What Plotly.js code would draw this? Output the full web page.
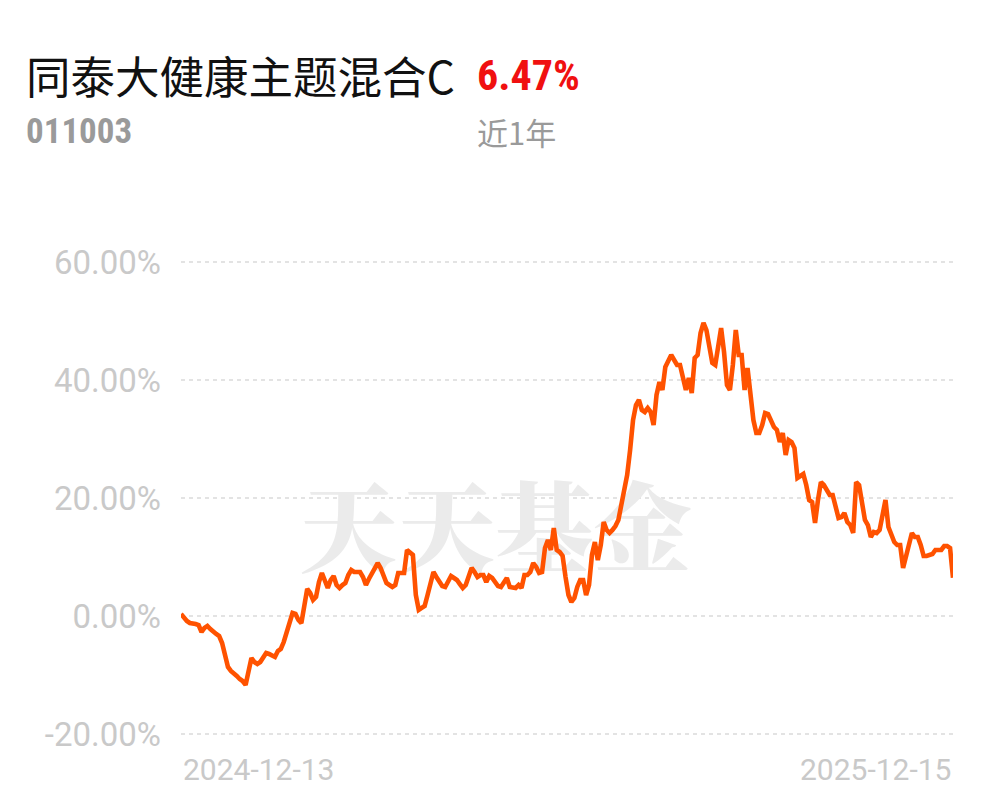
<!DOCTYPE html>
<html>
<head>
<meta charset="utf-8">
<script src="https://cdn.plot.ly/plotly-3.0.1.min.js"></script>
<style>
html,body{margin:0;padding:0;background:#fff;}
#chart{width:997px;height:802px;}
</style>
</head>
<body>
<div id="chart"></div>
<script>
const fundName = "同泰大健康主题混合C";
const fundCode = "011003";
const periodReturn = "6.47%";
const periodLabel = "近1年";
const startDate = "2024-12-13";
const endDate = "2025-12-15";
const yTicks = [-20, 0, 20, 40, 60];
const yTickText = ["-20.00%", "0.00%", "20.00%", "40.00%", "60.00%"];

const returns = [
0.34,-0.34,-0.85,-1.19,-1.19,-1.36,-1.53,-2.71,-2.03,-1.69,
-2.20,-2.71,-3.05,-3.39,-4.58,-6.61,-8.64,-9.32,-9.66,-10.17,
-10.68,-11.02,-11.69,-9.15,-7.12,-7.80,-8.14,-7.80,-6.95,-6.27,
-6.44,-6.78,-6.95,-5.93,-5.59,-4.41,-2.88,-1.36,0.51,0.34,
-0.68,-1.19,1.53,4.58,3.90,2.71,3.22,5.76,7.29,6.10,
4.75,6.10,6.78,5.25,4.75,5.25,5.59,6.95,7.80,7.46,
7.46,7.46,6.61,5.25,6.27,7.29,8.14,8.98,8.14,6.78,
5.59,5.25,4.92,5.25,7.29,7.29,7.29,11.19,10.68,10.34,
3.56,1.02,1.36,1.69,3.56,5.59,7.46,6.61,5.76,5.08,
4.92,6.10,6.78,6.44,6.10,5.42,4.75,5.25,6.78,8.14,
7.46,6.61,6.95,6.95,5.76,6.78,6.44,5.76,5.08,4.92,
5.59,6.44,4.92,4.92,4.75,5.25,4.75,6.95,6.95,7.46,
8.98,8.31,7.29,7.46,11.53,12.88,11.19,14.92,11.19,10.85,
10.17,6.61,3.56,2.37,3.05,4.92,6.10,6.10,3.56,5.25,
10.34,12.54,9.49,12.03,15.93,14.58,14.07,14.58,15.25,16.27,
18.81,21.36,23.90,28.14,33.22,35.76,36.61,34.92,34.58,35.25,
34.58,32.37,37.46,39.66,38.31,42.20,43.39,44.24,43.39,42.54,
42.54,40.00,38.31,40.34,37.80,43.73,44.24,47.97,49.66,48.47,
45.08,42.88,42.54,45.93,48.81,44.75,39.15,38.31,42.54,48.47,
44.24,44.24,38.31,42.03,37.97,33.22,31.02,31.02,32.37,34.41,
34.24,33.22,32.03,31.53,29.49,31.02,27.29,29.83,29.49,28.47,
23.39,23.73,24.07,22.20,19.66,19.32,15.76,19.66,22.71,22.20,
21.36,20.51,20.51,18.81,16.61,16.78,17.46,15.93,15.42,14.07,
22.71,22.20,18.81,16.27,15.42,13.39,14.24,14.07,14.58,17.12,
19.66,15.08,13.73,12.54,12.03,12.03,8.14,10.34,12.54,14.07,
13.39,13.39,12.03,10.17,10.17,10.34,10.51,11.19,11.19,11.19,
11.86,11.86,11.53,6.47
];
const dayIndex = returns.map((_, i) => i);
const lastIdx = returns.length - 1;

const grey = "#c9c9c9";

const watermark = {
  x: [lastIdx * 0.407], y: [12.9], mode: "text", text: ["天天基金"],
  textfont: {family: "Noto Serif CJK SC, Noto Sans CJK SC", size: 98, color: "#ebebeb", weight: 900},
  hoverinfo: "skip", showlegend: false, cliponaxis: false
};
const line = {
  x: dayIndex, y: returns, mode: "lines", type: "scatter",
  line: {color: "#ff5200", width: 4.6, shape: "linear"},
  hoverinfo: "skip", showlegend: false, cliponaxis: false
};

const layout = {
  width: 997, height: 802,
  margin: {l: 181, r: 44, t: 260, b: 66},
  paper_bgcolor: "#ffffff", plot_bgcolor: "#ffffff",
  font: {family: "Roboto, Noto Sans, sans-serif"},
  xaxis: {
    range: [0, lastIdx], showgrid: false, zeroline: false, showline: false,
    showticklabels: false, ticks: "", fixedrange: true
  },
  yaxis: {
    range: [-20.34, 60.34], tickvals: yTicks, ticktext: yTickText,
    showgrid: true, gridcolor: "#e3e3e3", gridwidth: 1.5, griddash: "4px,4px",
    zeroline: false, showline: false, ticks: "",
    ticklabelstandoff: 19,
    tickfont: {family: "Roboto, sans-serif", size: 33, color: grey},
    fixedrange: true
  },
  annotations: [
    {xref: "paper", yref: "paper", x: -0.204, y: 1.39, xanchor: "left", yanchor: "middle",
     text: fundName, showarrow: false,
     font: {family: "Noto Sans CJK SC", size: 44.5, color: "#111111"}},
    {xref: "paper", yref: "paper", x: 0.381, y: 1.388, xanchor: "left", yanchor: "middle",
     text: "<b>" + periodReturn + "</b>", showarrow: false,
     font: {family: "Roboto Condensed, Roboto, sans-serif", size: 42, color: "#f01010"}},
    {xref: "paper", yref: "paper", x: -0.204, y: 1.269, xanchor: "left", yanchor: "middle",
     text: "<b>" + fundCode + "</b>", showarrow: false,
     font: {family: "Roboto Condensed, Roboto, sans-serif", size: 35, color: "#9a9a9a"}},
    {xref: "paper", yref: "paper", x: 0.381, y: 1.269, xanchor: "left", yanchor: "middle",
     text: periodLabel, showarrow: false,
     font: {family: "Noto Sans CJK SC", size: 31, color: "#9a9a9a"}},
    {xref: "x", yref: "paper", x: 0, y: -0.071, xanchor: "left", yanchor: "middle",
     text: startDate, showarrow: false,
     font: {family: "Roboto, sans-serif", size: 30, color: grey}},
    {xref: "x", yref: "paper", x: lastIdx, y: -0.071, xanchor: "right", yanchor: "middle",
     text: endDate, showarrow: false,
     font: {family: "Roboto, sans-serif", size: 30, color: grey}}
  ]
};

Plotly.newPlot("chart", [watermark, line], layout, {displayModeBar: false, staticPlot: true});
</script>
</body>
</html>
